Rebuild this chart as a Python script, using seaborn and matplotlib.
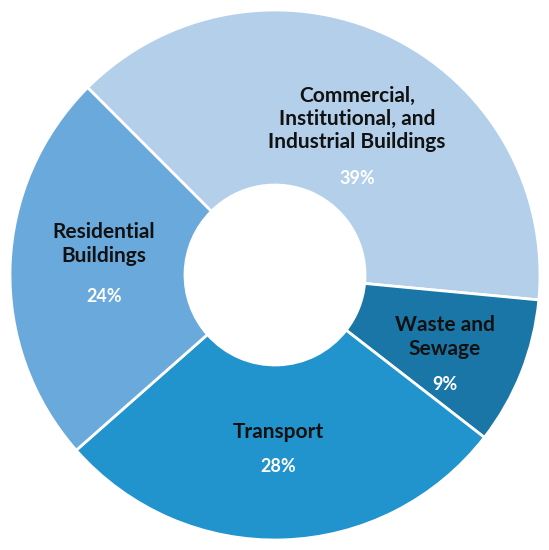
import matplotlib
matplotlib.use("Agg")
import matplotlib.pyplot as plt
import seaborn as sns

# datos del grafico
categorias = ["Commercial,\nInstitutional, and\nIndustrial Buildings", "Waste and\nSewage",
              "Transport", "Residential\nBuildings"]
porcentajes = [39, 9, 28, 24]
colores = ["#B3CFEA", "#1B76A8", "#2193CD", "#6AA9DC"]

sns.set_theme(style="white")
plt.rcParams["font.family"] = ["Lato", "DejaVu Sans"]

fig = plt.figure(figsize=(5.49, 5.50), dpi=100)
ax = fig.add_axes([0, 0, 1, 1])

R = 265.0
wedges, _ = ax.pie(porcentajes, colors=colores, startangle=135, counterclock=False,
                   radius=1.0, wedgeprops=dict(width=1 - 90 / R, edgecolor="white", linewidth=2))

# posiciones de las etiquetas en pixeles (x, y etiqueta, y porcentaje)
pos_etiquetas = [(357, 119, 179), (445, 337, 385), (278, 432, 467), (104, 244, 297)]


def px(x, y):
    return (x - 275) / R, (275 - y) / R


for cat, val, (x, y, yp) in zip(categorias, porcentajes, pos_etiquetas):
    ax.text(*px(x, y), cat, ha="center", va="center", fontsize=15, fontweight="bold",
            color="#111111", linespacing=1.2)
    ax.text(*px(x, yp), f"{val}%", ha="center", va="center", fontsize=13, fontweight="bold",
            color="white")

ax.set_xlim(-275 / R, 274 / R)
ax.set_ylim(-275 / R, 275 / R)
ax.set_aspect("equal")
ax.axis("off")

fig.savefig("out.png", dpi=100, facecolor="white")
